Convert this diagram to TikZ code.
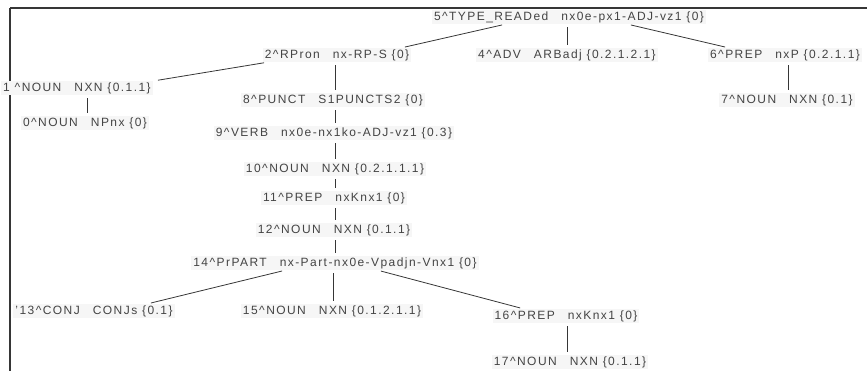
\documentclass[tikz,border=0pt]{standalone}
\usepackage{fontspec}
\setmainfont{Liberation Sans}[LetterSpace=12]
\usepackage{xcolor}
\definecolor{cText}{HTML}{444444}
\definecolor{cLine}{HTML}{363636}
\definecolor{cFill}{HTML}{F6F6F6}
\usetikzlibrary{calc}
\tikzset{
  node-word/.style={fill=cFill,text=cText,inner xsep=2pt,inner ysep=1.5pt,
    font=\fontsize{12}{14}\selectfont},
  link/.style={draw=cLine,line width=0.8pt,shorten <=3pt,shorten >=3pt},
  frame-line/.style={draw=cLine,line width=1.5pt},
}
\newcommand{\wtag}[2]{#1\hspace{13pt}#2}
\newcommand{\crt}{\textasciicircum}

\begin{document}
\begin{tikzpicture}[x=1pt,y=-1pt]
  \useasboundingbox (0,0) rectangle (867,371);
  \draw[frame-line] (10,8) -- (867,8);
  \draw[frame-line] (10,8) -- (10,371);

  \node[node-word] (w5) at (569,17) {\wtag{5\crt TYPE\_READed}{nx0e-px1-ADJ-vz1 \{0\}}};
  \node[node-word] (w2) at (337,55) {\wtag{2\crt RPron}{nx-RP-S \{0\}}};
  \node[node-word] (w4) at (567,55) {\wtag{4\crt ADV}{ARBadj \{0.2.1.2.1\}}};
  \node[node-word] (w6) at (785,55) {\wtag{6\crt PREP}{nxP \{0.2.1.1\}}};
  \node[node-word] (w1) at (77,88) {\wtag{1 \crt NOUN}{NXN \{0.1.1\}}};
  \node[node-word] (w0) at (85,123) {\wtag{0\crt NOUN}{NPnx \{0\}}};
  \node[node-word] (w8) at (333,100) {\wtag{8\crt PUNCT}{S1PUNCTS2 \{0\}}};
  \node[node-word] (w7) at (787,100) {\wtag{7\crt NOUN}{NXN \{0.1\}}};
  \node[node-word] (w9) at (334,133) {\wtag{9\crt VERB}{nx0e-nx1ko-ADJ-vz1 \{0.3\}}};
  \node[node-word] (w10) at (335,169) {\wtag{10\crt NOUN}{NXN \{0.2.1.1.1\}}};
  \node[node-word] (w11) at (334,198) {\wtag{11\crt PREP}{nxKnx1 \{0\}}};
  \node[node-word] (w12) at (334,230) {\wtag{12\crt NOUN}{NXN \{0.1.1\}}};
  \node[node-word] (w14) at (335,263) {\wtag{14\crt PrPART}{nx-Part-nx0e-Vpadjn-Vnx1 \{0\}}};
  \node[node-word] (w13) at (94,311) {\wtag{'13\crt CONJ}{CONJs \{0.1\}}};
  \node[node-word] (w15) at (332,311) {\wtag{15\crt NOUN}{NXN \{0.1.2.1.1\}}};
  \node[node-word] (w16) at (566,316) {\wtag{16\crt PREP}{nxKnx1 \{0\}}};
  \node[node-word] (w17) at (570,362) {\wtag{17\crt NOUN}{NXN \{0.1.1\}}};

  \draw[link] ([xshift=-64pt]w5.south) -- ([xshift=65pt]w2.north);
  \draw[link] ([xshift=-2pt]w5.south) -- ([xshift=-2pt]w5.south |- w4.north);
  \draw[link] ([xshift=59pt]w5.south) -- ([xshift=-57pt]w6.north);
  \draw[link] ([xshift=-70pt]w2.south) -- ([xshift=78pt]w1.north);
  \draw[link] ([xshift=10pt]w1.south) -- ([xshift=10pt]w1.south |- w0.north);
  \draw[link] ([xshift=-2pt]w2.south) -- ([xshift=-2pt]w2.south |- w8.north);
  \draw[link] ([xshift=3pt]w6.south) -- ([xshift=3pt]w6.south |- w7.north);
  \draw[link] (w8.south -| w14.north) -- (w9.north -| w14.north);
  \draw[link] (w9.south -| w14.north) -- (w10.north -| w14.north);
  \draw[link] (w10.south -| w14.north) -- (w11.north -| w14.north);
  \draw[link] (w11.south -| w14.north) -- (w12.north -| w14.north);
  \draw[link] (w12.south -| w14.north) -- (w14.north);
  \draw[link] ([xshift=-50pt]w14.south) -- ([xshift=54pt]w13.north);
  \draw[link] ([xshift=-2pt]w14.south) -- ([xshift=-2pt]w14.south |- w15.north);
  \draw[link] ([xshift=43pt]w14.south) -- ([xshift=-43pt]w16.north);
  \draw[link] ([xshift=1pt]w16.south) -- ([xshift=1pt]w16.south |- w17.north);
\end{tikzpicture}
\end{document}
